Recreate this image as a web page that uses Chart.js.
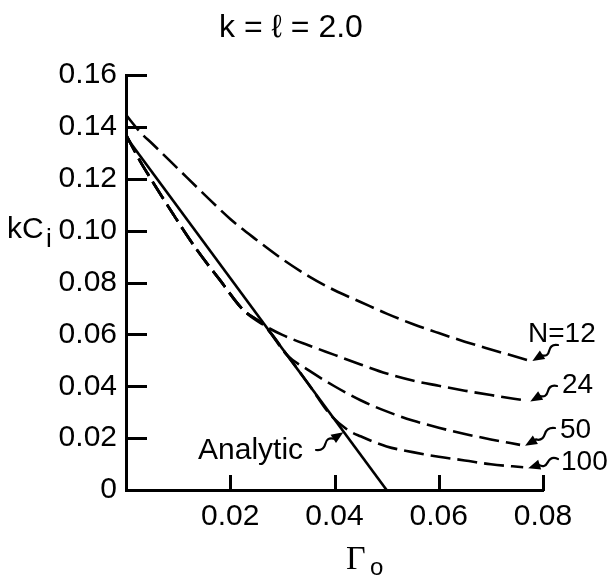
<!DOCTYPE html>
<html>
<head>
<meta charset="utf-8">
<script src="https://cdn.jsdelivr.net/npm/chart.js@4"></script>
<style>
  html, body { margin: 0; padding: 0; background: #fff; }
  canvas { display: block; }
</style>
</head>
<body>
<canvas id="c" width="609" height="576"></canvas>
<script>
// ---- data ----
const titleText = 'k = \u2113 = 2.0';
const xTickLabels = ['', '0.02', '0.04', '0.06', '0.08'];
const yTickLabels = ['0', '0.02', '0.04', '0.06', '0.08', '0.10', '0.12', '0.14', '0.16'];

const analyticX = [0, 0.05];
const analyticY = [0.1362, 0];

const n12X = [0, 0.0027, 0.005, 0.01, 0.015, 0.02, 0.025, 0.03, 0.035, 0.04, 0.045, 0.05, 0.055, 0.06, 0.065, 0.07, 0.077];
const n12Y = [0.1446, 0.138, 0.1336, 0.1238, 0.114, 0.1045, 0.0965, 0.089, 0.0825, 0.077, 0.0725, 0.068, 0.064, 0.0605, 0.0572, 0.0542, 0.0501];

// common early branch shared by N = 24, 50, 100
const sharedX = [0, 0.0027, 0.0046, 0.009, 0.0136, 0.018, 0.0225, 0.0265];
const sharedY = [0.137, 0.1268, 0.1205, 0.1065, 0.0926, 0.081, 0.0694, 0.0635];

const n24X = [0.03, 0.035, 0.04, 0.045, 0.05, 0.055, 0.06, 0.065, 0.07, 0.0766];
const n24Y = [0.0598, 0.0558, 0.0521, 0.0484, 0.0449, 0.0422, 0.0402, 0.0383, 0.0366, 0.0345];

const n50X = [0.031, 0.035, 0.04, 0.045, 0.05, 0.055, 0.06, 0.065, 0.07, 0.0756];
const n50Y = [0.0518, 0.0462, 0.0400, 0.0346, 0.0303, 0.0268, 0.0240, 0.0216, 0.0195, 0.0174];

const n100X = [0.031, 0.035, 0.0392, 0.0425, 0.045, 0.05, 0.055, 0.06, 0.065, 0.07, 0.0762];
const n100Y = [0.0518, 0.0409, 0.029, 0.0232, 0.0207, 0.0168, 0.0146, 0.0128, 0.0114, 0.0099, 0.0088];

const seriesLabels = ['N=12', '24', '50', '100'];
const analyticLabel = 'Analytic';
const analyticArrowX = 0.0417;

// ---- build ----
const pts = (xs, ys) => xs.map((x, i) => ({ x, y: ys[i] }));
const FONT = "'Liberation Sans', Arial, 'DejaVu Sans', sans-serif";

const dashedStyle = {
  borderColor: '#000', borderWidth: 2.6, borderDash: [20, 7],
  pointRadius: 0, fill: false, cubicInterpolationMode: 'monotone', borderCapStyle: 'butt'
};

const datasets = [
  { label: 'Analytic', data: pts(analyticX, analyticY), borderColor: '#000', borderWidth: 2.6, pointRadius: 0, fill: false, tension: 0 },
  Object.assign({ label: 'N=12', data: pts(n12X, n12Y) }, dashedStyle),
  Object.assign({ label: 'N=24', data: pts(sharedX.concat(n24X), sharedY.concat(n24Y)) }, dashedStyle),
  Object.assign({ label: 'N=50', data: pts(sharedX.concat(n50X), sharedY.concat(n50Y)) }, dashedStyle),
  Object.assign({ label: 'N=100', data: pts(sharedX.concat(n100X), sharedY.concat(n100Y)) }, dashedStyle)
];

function squiggleArrow(ctx, sx, sy, tx, ty) {
  const dx = tx - sx, dy = ty - sy, L = Math.hypot(dx, dy);
  const ux = dx / L, uy = dy / L, nx = -uy, ny = ux;
  const p = (t, o) => [sx + dx * t + nx * o, sy + dy * t + ny * o];
  ctx.save();
  ctx.strokeStyle = '#000'; ctx.fillStyle = '#000'; ctx.lineWidth = 2.2;
  ctx.lineCap = 'round'; ctx.lineJoin = 'round';
  ctx.beginPath();
  ctx.moveTo(sx, sy);
  let a = p(0.18, 5), b = p(0.34, 0);
  ctx.quadraticCurveTo(a[0], a[1], b[0], b[1]);
  a = p(0.5, -5); b = p(0.64, 0);
  ctx.quadraticCurveTo(a[0], a[1], b[0], b[1]);
  ctx.lineTo(tx - ux * 8, ty - uy * 8);
  ctx.stroke();
  ctx.beginPath();
  ctx.moveTo(tx, ty);
  ctx.lineTo(tx - ux * 12 + nx * 5, ty - uy * 12 + ny * 5);
  ctx.lineTo(tx - ux * 12 - nx * 5, ty - uy * 12 - ny * 5);
  ctx.closePath();
  ctx.fill();
  ctx.restore();
}

function interp(xs, ys, x) {
  for (let i = 0; i < xs.length - 1; i++) {
    if (x >= xs[i] && x <= xs[i + 1]) {
      const t = (x - xs[i]) / (xs[i + 1] - xs[i]);
      return ys[i] + t * (ys[i + 1] - ys[i]);
    }
  }
  return ys[ys.length - 1];
}

const decorPlugin = {
  id: 'decor',
  afterDraw(chart) {
    const ctx = chart.ctx;
    const xs = chart.scales.x, ys = chart.scales.y;
    const x0 = xs.getPixelForValue(0), y0 = ys.getPixelForValue(0);
    ctx.save();
    ctx.strokeStyle = '#000';
    ctx.lineWidth = 3;
    ctx.lineCap = 'butt';
    // inward tick marks
    ys.ticks.forEach(t => {
      if (t.value <= 0) return;
      const py = Math.round(ys.getPixelForValue(t.value)) + 0.5;
      ctx.beginPath(); ctx.moveTo(x0 - 1, py); ctx.lineTo(x0 + 21, py); ctx.stroke();
    });
    xs.ticks.forEach(t => {
      if (t.value <= 0) return;
      const px = Math.round(xs.getPixelForValue(t.value)) + 0.5;
      ctx.beginPath(); ctx.moveTo(px, y0 + 1); ctx.lineTo(px, y0 - 15); ctx.stroke();
    });

    ctx.fillStyle = '#000';
    // title
    ctx.font = '32px ' + FONT;
    ctx.textAlign = 'center'; ctx.textBaseline = 'alphabetic';
    ctx.fillText(titleText, 291, 37);

    // y-axis title kC_i
    ctx.textAlign = 'left';
    ctx.font = '30px ' + FONT;
    ctx.fillText('kC', 7, 238);
    ctx.font = '26px ' + FONT;
    ctx.fillText('i', 46, 247);

    // x-axis title Γ_o
    ctx.font = '34px ' + "'Liberation Serif', 'DejaVu Serif', serif";
    ctx.fillText('\u0393', 346, 569);
    ctx.font = '24px ' + FONT;
    ctx.fillText('o', 370, 575);

    // series labels with squiggle arrows
    const ends = [
      [n12X, n12Y], [n24X, n24Y], [n50X, n50Y], [n100X, n100Y]
    ].map(([a, b]) => [xs.getPixelForValue(a[a.length - 1]), ys.getPixelForValue(b[b.length - 1])]);
    const labelPos = [[528, 342], [562, 393], [560, 438], [561, 470]];
    const arrowStart = [[558, 345], [557, 386], [555, 428], [558, 459]];
    ctx.font = '28px ' + FONT;
    seriesLabels.forEach((s, i) => {
      ctx.fillText(s, labelPos[i][0], labelPos[i][1]);
      squiggleArrow(ctx, arrowStart[i][0], arrowStart[i][1], ends[i][0] + 5, ends[i][1] + 1);
    });

    // analytic label
    ctx.font = '30px ' + FONT;
    ctx.fillText(analyticLabel, 198, 459);
    const tx = xs.getPixelForValue(analyticArrowX);
    const ty = ys.getPixelForValue(interp(analyticX, analyticY, analyticArrowX));
    squiggleArrow(ctx, 316, 450, tx, ty + 1);
    ctx.restore();
  }
};

new Chart(document.getElementById('c'), {
  type: 'line',
  data: { datasets },
  plugins: [decorPlugin],
  options: {
    responsive: false,
    animation: false,
    devicePixelRatio: 1,
    layout: { padding: { top: 75, right: 66, left: 0, bottom: 0 } },
    plugins: { legend: { display: false }, tooltip: { enabled: false }, title: { display: false } },
    scales: {
      x: {
        type: 'linear', min: 0, max: 0.08,
        afterFit(s) { s.height = 86; },
        grid: { display: true, drawOnChartArea: false, drawTicks: false },
        border: { display: true, color: '#000', width: 3 },
        ticks: {
          stepSize: 0.02, padding: 9, color: '#000', maxRotation: 0,
          font: { family: FONT, size: 30 },
          callback: (v, i) => xTickLabels[i]
        }
      },
      y: {
        type: 'linear', min: 0, max: 0.16,
        afterFit(s) { s.width = 126; },
        grid: { display: true, drawOnChartArea: false, drawTicks: false },
        border: { display: true, color: '#000', width: 3 },
        ticks: {
          stepSize: 0.02, padding: 9, color: '#000',
          font: { family: FONT, size: 30 },
          callback: (v, i) => yTickLabels[i]
        }
      }
    }
  }
});
</script>
</body>
</html>
